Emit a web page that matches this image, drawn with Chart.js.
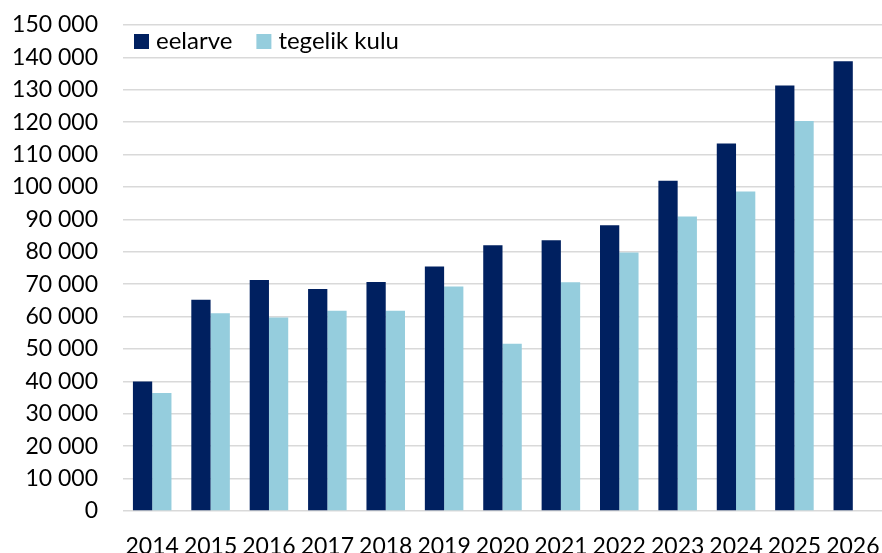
<!DOCTYPE html>
<html>
<head>
<meta charset="utf-8">
<script src="https://cdn.jsdelivr.net/npm/chart.js@4.4.1/dist/chart.umd.min.js"></script>
<style>
  html, body { margin: 0; padding: 0; background: #fff; }
  #wrap { width: 882px; height: 553px; }
</style>
</head>
<body>
<div id="wrap"><canvas id="myChart" width="882" height="553"></canvas></div>
<script>
const years = ['2014','2015','2016','2017','2018','2019','2020','2021','2022','2023','2024','2025','2026'];
const eelarve = [40000, 65200, 71300, 68500, 70700, 75500, 82000, 83600, 88200, 101900, 113400, 131300, 138800];
const tegelikKulu = [36400, 61000, 59700, 61800, 61800, 69300, 51600, 70600, 79800, 90900, 98600, 120400, null];

const FONT = { family: 'Lato', size: 23 };
const LEGEND_FONT_SIZE = 24;

function fmt(v) {
  return String(v).replace(/\B(?=(\d{3})+(?!\d))/g, ' ');
}

// legend drawn inside the plot area, top left, like the original
const insideLegend = {
  id: 'insideLegend',
  afterDraw(chart) {
    const ctx = chart.ctx;
    const area = chart.chartArea;
    let x = area.left + 11;
    const y = area.top + 9;
    ctx.save();
    ctx.font = LEGEND_FONT_SIZE + 'px ' + FONT.family;
    ctx.textBaseline = 'middle';
    ctx.textAlign = 'left';
    chart.data.datasets.forEach(ds => {
      ctx.fillStyle = ds.backgroundColor;
      ctx.fillRect(x, y, 15, 15);
      x += 15 + 7;
      ctx.fillStyle = '#000';
      ctx.fillText(ds.label, x, y + 7.5);
      x += ctx.measureText(ds.label).width + 24;
    });
    ctx.restore();
  }
};

new Chart(document.getElementById('myChart').getContext('2d'), {
  type: 'bar',
  data: {
    labels: years,
    datasets: [
      { label: 'eelarve', data: eelarve, backgroundColor: '#002060' },
      { label: 'tegelik kulu', data: tegelikKulu, backgroundColor: '#95CDDD' }
    ]
  },
  options: {
    responsive: false,
    animation: false,
    layout: { padding: { top: 25, left: 0, right: 0, bottom: 0 } },
    datasets: { bar: { categoryPercentage: 0.66, barPercentage: 1.0 } },
    plugins: {
      tooltip: { enabled: false },
      legend: { display: false }
    },
    scales: {
      x: {
        grid: { display: false, drawTicks: false },
        border: { display: false },
        ticks: { color: '#000', font: FONT, padding: 22, maxRotation: 0, autoSkip: false },
        afterFit(scale) {
          scale.height = 42;
          scale.paddingLeft = 0;
          scale.paddingRight = 0;
        }
      },
      y: {
        min: 0,
        max: 150000,
        grid: { color: '#D9D9D9', lineWidth: 1.5, drawTicks: false },
        border: { display: false },
        ticks: {
          stepSize: 10000,
          color: '#000',
          font: FONT,
          padding: 25,
          callback: v => fmt(v)
        },
        afterFit(scale) {
          scale.width = 123;
          scale.paddingTop = 0;
          scale.paddingBottom = 0;
        }
      }
    }
  },
  plugins: [insideLegend]
});
</script>
</body>
</html>
